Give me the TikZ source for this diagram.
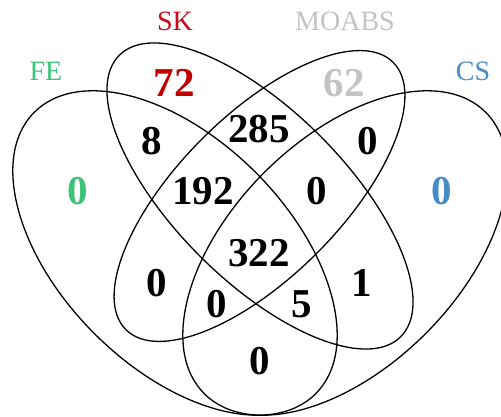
\documentclass[tikz,border=0pt]{standalone}
\usepackage{fontspec}
\setmainfont{Liberation Serif}
\definecolor{skred}{RGB}{200,10,30}
\definecolor{numred}{RGB}{192,0,0}
\definecolor{mgray}{RGB}{195,195,195}
\definecolor{fegreen}{RGB}{60,195,120}
\definecolor{csblue}{RGB}{70,140,200}
\begin{document}
\begin{tikzpicture}[x=1pt,y=1pt,
  setline/.style={line width=1.3pt,black},
  setlabel/.style={inner sep=0pt,font=\fontsize{28}{30}\selectfont},
  count/.style={inner sep=0pt,font=\fontsize{41}{43}\selectfont\bfseries}]
\useasboundingbox (0,0) rectangle (501,417);
\clip (0,0) rectangle (501,417);
% ellipses
\draw[setline,rotate around={-45:(175,164)}] (175,164) ellipse (199pt and 114pt);
\draw[setline,rotate around={45:(345,164)}] (345,164) ellipse (199pt and 114pt);
\draw[setline,rotate around={-45:(260,221)}] (260,221) ellipse (199pt and 85pt);
\draw[setline,rotate around={45:(259.5,221)}] (259.5,221) ellipse (189pt and 81pt);
% set labels
\node[setlabel,text=skred] (lsk) at (175,396) {SK};
\node[setlabel,text=mgray] (lmo) at (345,396) {MOABS};
\node[setlabel,text=fegreen] (lfe) at (46,346) {FE};
\node[setlabel,text=csblue] (lcs) at (473,346) {CS};
% counts
\node[count,text=numred] (n72) at (174,334) {72};
\node[count,text=mgray] (n62) at (344,334) {62};
\node[count,text=fegreen] (nfe) at (78,226) {0};
\node[count,text=csblue] (ncs) at (442,226) {0};
\node[count] (n8) at (152,276) {8};
\node[count] (n285) at (259,288) {285};
\node[count] (nmc) at (368,276) {0};
\node[count] (n192) at (203,226) {192};
\node[count] (nr0) at (317,226) {0};
\node[count] (n322) at (259,164) {322};
\node[count] (nl0) at (157,134) {0};
\node[count] (n1) at (362,134) {1};
\node[count] (nc0) at (217,113) {0};
\node[count] (n5) at (302,113) {5};
\node[count] (nb0) at (260,56) {0};
\end{tikzpicture}
\end{document}
